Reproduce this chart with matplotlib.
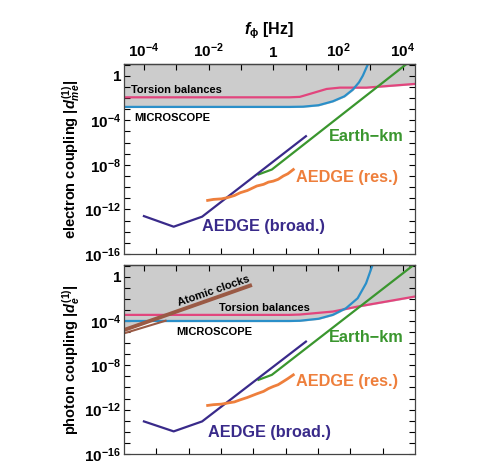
import numpy as np
import matplotlib
matplotlib.use('Agg')
import matplotlib.pyplot as plt

plt.rcParams['font.family'] = ['Liberation Sans', 'DejaVu Sans']
plt.rcParams['font.weight'] = 'bold'
plt.rcParams['mathtext.fontset'] = 'custom'
plt.rcParams['mathtext.rm'] = 'Liberation Sans:bold'
plt.rcParams['mathtext.bf'] = 'Liberation Sans:bold'
plt.rcParams['mathtext.it'] = 'Liberation Sans:italic:bold'
plt.rcParams['mathtext.default'] = 'bf'

# log10 of 1/h in Hz per eV, converts scalar mass to frequency
LOG_INV_H = 14.3834

# ---- data (log10 f [Hz], log10 coupling) ----
# electron coupling panel
e_micro_f = [-4.6, 0.5, 0.92, 1.4, 1.84, 2.2, 2.46, 2.65, 2.77, 2.93]
e_micro_d = [-2.8, -2.8, -2.78, -2.65, -2.3, -1.85, -1.25, -0.6, 0.0, 1.05]
e_tors_f = [-4.6, 0.5, 0.82, 1.23, 1.65, 2.06, 2.88, 4.37]
e_tors_d = [-1.94, -1.94, -1.9, -1.55, -1.19, -1.07, -1.07, -0.74]
e_earth_f = [-0.457, -0.044, 4.13]
e_earth_d = [-8.86, -8.42, 1.07]
e_broad_f = [-4.0, -3.08, -2.2, 1.01]
e_broad_d = [-12.6, -13.55, -12.65, -5.43]
e_res_f = [-2.03, -1.85, -1.6, -1.43, -1.2, -1.02, -0.8, -0.51, -0.3, -0.15, 0.0, 0.15, 0.31, 0.45, 0.62]
e_res_d = [-11.19, -11.1, -11.05, -10.95, -10.75, -10.5, -10.3, -9.9, -9.75, -9.55, -9.46, -9.3, -9.0, -8.8, -8.42]

# photon coupling panel
p_micro_f = [-4.6, 0.5, 0.82, 1.4, 1.84, 2.25, 2.61, 2.87, 3.07]
p_micro_d = [-4.0, -4.0, -3.98, -3.8, -3.45, -2.85, -1.95, -0.6, 1.05]
p_tors_f = [-4.6, 0.5, 0.82, 1.84, 2.61, 4.37]
p_tors_d = [-3.45, -3.45, -3.42, -3.15, -2.7, -1.8]
p_clock_f = [-4.6, -0.66]
p_clock_d = [-4.8, -0.75]
p_clock2_f = [-4.6, -3.3]
p_clock2_d = [-5.1, -3.95]
p_earth_f = [-0.457, -0.044, 4.34]
p_earth_d = [-9.31, -8.86, 1.05]
p_broad_f = [-4.0, -3.08, -2.2, 1.01]
p_broad_d = [-13.06, -13.96, -13.06, -5.86]
p_res_f = [-2.03, -1.85, -1.6, -1.43, -1.2, -1.02, -0.8, -0.51, -0.3, -0.15, 0.0, 0.15, 0.31, 0.45, 0.62]
p_res_d = [-11.62, -11.55, -11.5, -11.41, -11.3, -11.11, -10.9, -10.57, -10.35, -10.1, -9.91, -9.75, -9.46, -9.2, -8.86]

f_ticks = range(-4, 5)
m_ticks = range(-18, -10)

c_pink = '#e2457d'
c_blue = '#2a8fc9'
c_green = '#3a962e'
c_orange = '#ee7f3c'
c_purple = '#392a8a'
c_brown = '#9a5a45'

fig = plt.figure(figsize=(4.84, 4.73), dpi=100)
ax1 = fig.add_axes([124/484, 1-254/473, 291/484, 190/473])
ax2 = fig.add_axes([124/484, 1-454/473, 291/484, 189/473])

xlo, xhi = -19 + LOG_INV_H, -10 + LOG_INV_H
ylo, yhi = -16, 1.05


def p10(a):
    return 10.0 ** np.asarray(a, dtype=float)


def setup(ax, top_labels):
    ax.set_xscale('log')
    ax.set_yscale('log')
    ax.set_xlim(p10(xlo), p10(xhi))
    ax.set_ylim(p10(ylo), p10(yhi))
    ax.set_yticks(p10([0, -4, -8, -12, -16]))
    ax.set_yticklabels(['1', r'$10^{-4}$', r'$10^{-8}$', r'$10^{-12}$', r'$10^{-16}$'])
    ax.set_yticks(p10(np.arange(-16, 2)), minor=True)
    ax.tick_params(axis='y', which='both', direction='in', length=4, width=0.8,
                   left=True, right=True, labelsize=11, pad=2)
    ax.tick_params(axis='y', which='minor', labelleft=False)
    # bottom: mass ticks, no labels
    ax.set_xticks(p10(np.array(m_ticks) + LOG_INV_H))
    ax.set_xticks([], minor=True)
    ax.tick_params(axis='x', which='both', direction='in', length=4, width=0.8,
                   bottom=True, labelbottom=False)
    sec = ax.secondary_xaxis('top')
    sec.set_xticks(p10(list(f_ticks)))
    sec.set_xticks([], minor=True)
    labs = []
    for k in f_ticks:
        if top_labels and k % 2 == 0:
            labs.append('1' if k == 0 else r'$10^{%d}$' % k)
        else:
            labs.append('')
    sec.set_xticklabels(labs)
    sec.tick_params(axis='x', which='both', direction='in', length=4, width=0.8,
                    labelsize=11, pad=3)
    for s in list(ax.spines.values()) + list(sec.spines.values()):
        s.set_color('#444444')
        s.set_linewidth(0.9)
    return sec


sec1 = setup(ax1, True)
sec2 = setup(ax2, False)
sec1.set_xlabel(r'$\mathit{f}_{\phi}$ [Hz]', fontsize=11.5, fontweight='bold', labelpad=5)

grid = np.linspace(xlo, xhi, 600)

# shaded excluded region
env1 = np.minimum(np.interp(grid, e_micro_f, e_micro_d, right=5),
                  np.interp(grid, e_tors_f, e_tors_d))
ax1.fill_between(p10(grid), p10(env1), p10(yhi + 1), color='#cccccc', zorder=0)
env2 = np.minimum(np.interp(grid, p_micro_f, p_micro_d, right=5),
                  np.interp(grid, p_tors_f, p_tors_d))
clk = np.interp(grid, p_clock_f, p_clock_d, right=5)
env2 = np.minimum(env2, clk)
ax2.fill_between(p10(grid), p10(env2), p10(yhi + 1), color='#cccccc', zorder=0)

lw = 1.6
for ax, d in [(ax1, 'e'), (ax2, 'p')]:
    g = globals()
    ax.plot(p10(g[d + '_tors_f']), p10(g[d + '_tors_d']), color=c_pink, lw=lw)
    ax.plot(p10(g[d + '_micro_f']), p10(g[d + '_micro_d']), color=c_blue, lw=lw)
    ax.plot(p10(g[d + '_earth_f']), p10(g[d + '_earth_d']), color=c_green, lw=lw)
    ax.plot(p10(g[d + '_broad_f']), p10(g[d + '_broad_d']), color=c_purple, lw=lw)
    ax.plot(p10(g[d + '_res_f']), p10(g[d + '_res_d']), color=c_orange, lw=2.0)

ax2.plot(p10(p_clock_f), p10(p_clock_d), color=c_brown, lw=2.8, solid_capstyle='butt')
ax2.plot(p10(p_clock2_f), p10(p_clock2_d), color=c_brown, lw=1.5, solid_capstyle='butt')

small = dict(fontsize=8, fontweight='bold', color='black', va='center', ha='left')
big = dict(fontsize=11.7, fontweight='bold', va='center', ha='left')

ax1.text(p10(-4.41), p10(-1.25), 'Torsion balances', **small)
ax1.text(p10(-4.31), p10(-3.79), 'MICROSCOPE', **small)
ax1.text(p10(1.72), p10(-5.43), 'Earth\u2212km', color=c_green, **big)
ax1.text(p10(0.70), p10(-9.16), 'AEDGE (res.)', color=c_orange, **big)
ax1.text(p10(-2.2), p10(-13.5), 'AEDGE (broad.)', color=c_purple, **big)

ax2.text(p10(-1.85), p10(-1.3), 'Atomic clocks', rotation=19, rotation_mode='anchor',
         fontsize=8, fontweight='bold', color='black', ha='center', va='center')
ax2.text(p10(-1.69), p10(-2.79), 'Torsion balances', **small)
ax2.text(p10(-3.0), p10(-5.0), 'MICROSCOPE', **small)
ax2.text(p10(1.72), p10(-5.5), 'Earth\u2212km', color=c_green, **big)
ax2.text(p10(0.70), p10(-9.46), 'AEDGE (res.)', color=c_orange, **big)
ax2.text(p10(-2.03), p10(-14.05), 'AEDGE (broad.)', color=c_purple, **big)

ax1.set_ylabel(r'electron coupling $|\mathit{d}_{\mathit{me}}^{(1)}|$', fontsize=10.5,
               fontweight='bold', labelpad=2)
ax2.set_ylabel(r'photon coupling $|\mathit{d}_{\mathit{e}}^{(1)}|$', fontsize=10.5,
               fontweight='bold', labelpad=2)

fig.savefig('out.png', dpi=100)
